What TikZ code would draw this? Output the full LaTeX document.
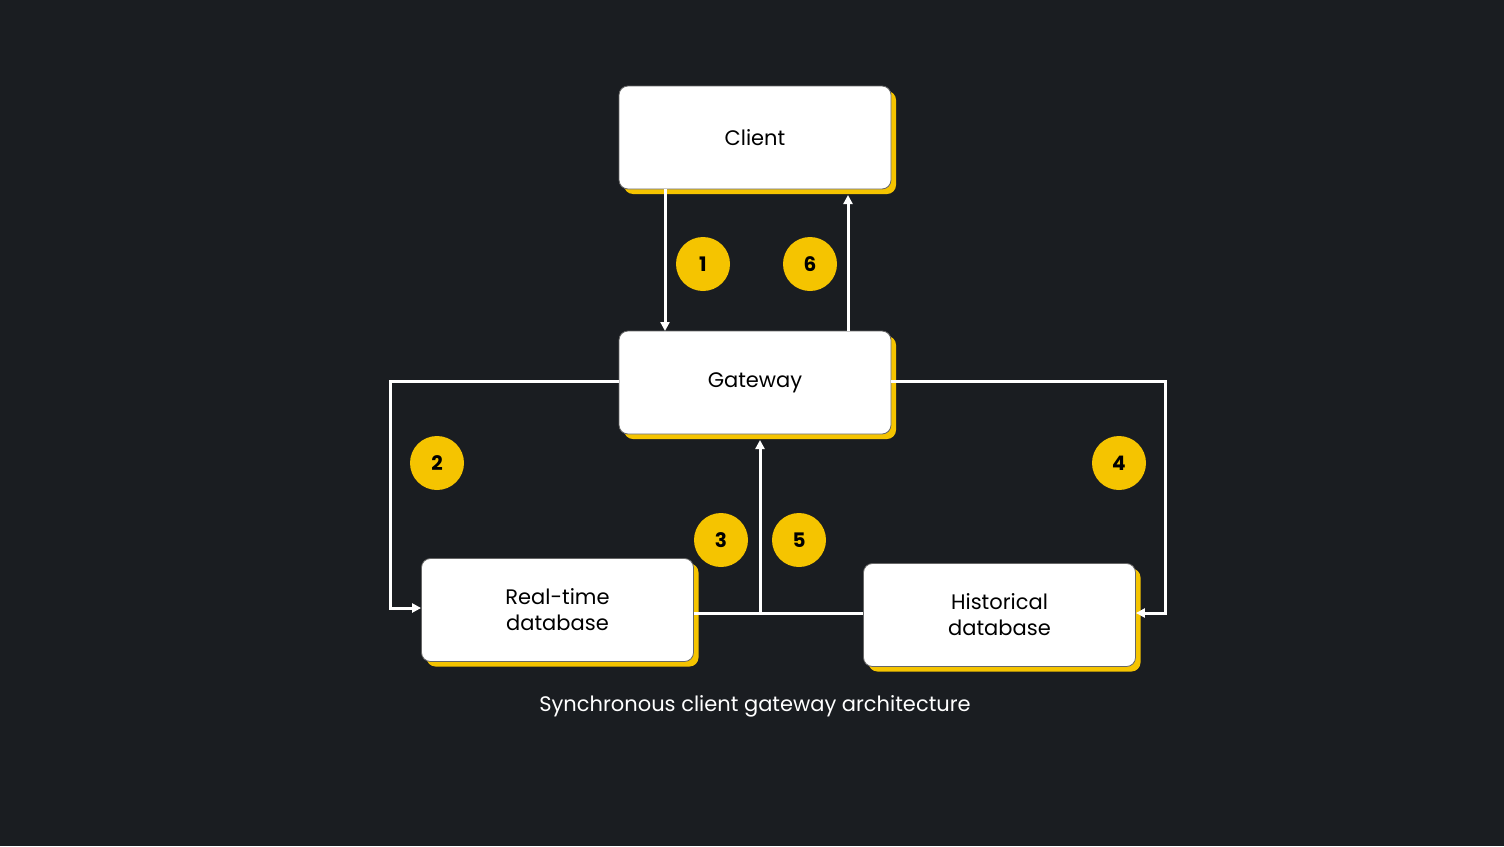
\documentclass[tikz,border=0pt]{standalone}
\usepackage{fontspec}
\setmainfont{Poppins}
\usetikzlibrary{arrows.meta}
\definecolor{bg}{HTML}{1A1D21}
\definecolor{ylw}{HTML}{F5C400}
\begin{document}
\begin{tikzpicture}[x=1pt,y=-1pt,
  box/.style={draw=black!60,line width=0.8pt,fill=white,rounded corners=9pt,minimum width=272pt,minimum height=103pt,inner sep=0pt,font=\fontsize{21}{26}\selectfont,align=center,text=black},
  shad/.style={fill=ylw,rounded corners=9pt,minimum width=272pt,minimum height=103pt,inner sep=0pt},
  num/.style={circle,fill=ylw,minimum size=54pt,inner sep=0pt,font=\bfseries\fontsize{20}{24}\selectfont,text=black},
  conn/.style={draw=white,line width=3pt},
  arr/.style={conn,-{Triangle[length=9pt,width=9pt]}}]
\useasboundingbox[fill=bg] (0,0) rectangle (1504,846);
\foreach \n/\x/\y in {c/755/137.5,g/755/382.5,r/557.5/610,h/999.5/615}{
  \node[shad] at (\x+5,\y+5) {};}
\node[box] (client) at (755,137.5) {Client};
\node[box] (gw) at (755,382.5) {Gateway};
\node[box] (rt) at (557.5,610) {Real-time\\database};
\node[box] (hist) at (999.5,615) {Historical\\database};
\draw[arr] (665,189) -- (665,331);
\draw[arr] (848,331) -- (848,195);
\draw[arr] (gw.west |- 0,381) -- (390,381) -- (390,608) -- (rt.west |- 0,608);
\draw[arr] (gw.east |- 0,381) -- (1165,381) -- (1165,613) -- (hist.east |- 0,613);
\draw[conn] (rt.east |- 0,613) -- (hist.west |- 0,613);
\coordinate (j) at (760,613);
\draw[arr] (j) -- (760,440);
\node[num] (n1) at (703,264) {1};
\node[num] (n6) at (810,264) {6};
\node[num] (n2) at (437,463) {2};
\node[num] (n4) at (1119,463) {4};
\node[num] (n3) at (721,540) {3};
\node[num] (n5) at (799,540) {5};
\node[text=white,font=\fontsize{21}{26}\selectfont] (cap) at (755,706) {Synchronous client gateway architecture};
\end{tikzpicture}
\end{document}
